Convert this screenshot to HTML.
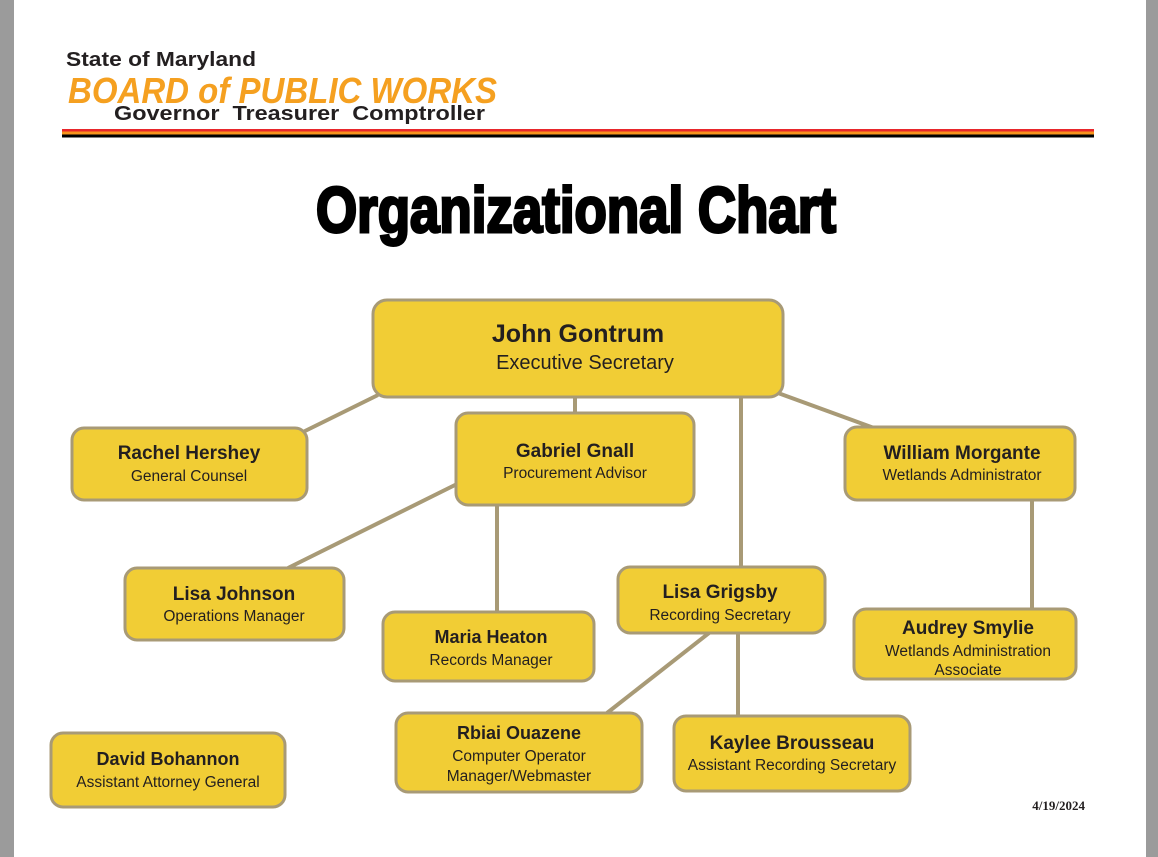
<!DOCTYPE html>
<html><head><meta charset="utf-8"><style>
html,body{margin:0;padding:0;background:#fff}
svg{display:block}
</style></head><body>
<svg width="1158" height="857" viewBox="0 0 1158 857" xmlns="http://www.w3.org/2000/svg" font-family="Liberation Sans, sans-serif">
<rect x="0" y="0" width="1158" height="857" fill="#fff"/>
<rect x="0" y="0" width="14" height="857" fill="#9b9b9b"/>
<rect x="1146" y="0" width="12" height="857" fill="#9b9b9b"/>
<text x="66" y="66" font-size="20" font-weight="bold" fill="#231f20" textLength="190" lengthAdjust="spacingAndGlyphs">State of Maryland</text>
<text x="68" y="103" font-size="36" font-style="italic" font-weight="bold" fill="#f5a020" textLength="429" lengthAdjust="spacingAndGlyphs">BOARD of PUBLIC WORKS</text>
<text x="114" y="120" font-size="20" font-weight="bold" fill="#231f20" textLength="371" lengthAdjust="spacingAndGlyphs" xml:space="preserve">Governor  Treasurer  Comptroller</text>
<rect x="62" y="129" width="1032" height="2.5" fill="#e8262b"/>
<rect x="62" y="131.5" width="1032" height="3" fill="#f7941d"/>
<rect x="62" y="134.5" width="1032" height="3" fill="#000"/>
<text x="316" y="232" font-size="64" font-weight="bold" fill="#000" stroke="#000" stroke-width="3" textLength="520" lengthAdjust="spacingAndGlyphs">Organizational Chart</text>
<g stroke="#a89a76" stroke-width="4" fill="none">
<line x1="378" y1="395" x2="303" y2="432"/>
<line x1="575" y1="396" x2="575" y2="414"/>
<line x1="741" y1="396" x2="741" y2="568"/>
<line x1="778" y1="393" x2="874" y2="428"/>
<line x1="457" y1="484" x2="288" y2="568"/>
<line x1="497" y1="504" x2="497" y2="612"/>
<line x1="1032" y1="499" x2="1032" y2="609"/>
<line x1="709" y1="633" x2="607" y2="713"/>
<line x1="738" y1="633" x2="738" y2="716"/>
</g>
<g fill="#f1cd35" stroke="#a89a76" stroke-width="3">
<rect x="373" y="300" width="410" height="97" rx="14"/>
<rect x="72" y="428" width="235" height="72" rx="12"/>
<rect x="456" y="413" width="238" height="92" rx="12"/>
<rect x="845" y="427" width="230" height="73" rx="12"/>
<rect x="125" y="568" width="219" height="72" rx="12"/>
<rect x="383" y="612" width="211" height="69" rx="12"/>
<rect x="618" y="567" width="207" height="66" rx="12"/>
<rect x="854" y="609" width="222" height="70" rx="12"/>
<rect x="396" y="713" width="246" height="79" rx="12"/>
<rect x="674" y="716" width="236" height="75" rx="12"/>
<rect x="51" y="733" width="234" height="74" rx="12"/>
</g>
<g fill="#231f20" text-anchor="middle">
<text x="578" y="342" font-size="25" font-weight="bold">John Gontrum</text>
<text x="585" y="369" font-size="20">Executive Secretary</text>
<text x="189" y="459" font-size="19" font-weight="bold">Rachel Hershey</text>
<text x="189" y="481" font-size="15.5">General Counsel</text>
<text x="575" y="457" font-size="19" font-weight="bold">Gabriel Gnall</text>
<text x="575" y="478" font-size="15.5">Procurement Advisor</text>
<text x="962" y="459" font-size="19" font-weight="bold">William Morgante</text>
<text x="962" y="480" font-size="15.5">Wetlands Administrator</text>
<text x="234" y="600" font-size="19" font-weight="bold">Lisa Johnson</text>
<text x="234" y="621" font-size="15.5">Operations Manager</text>
<text x="491" y="643" font-size="18" font-weight="bold">Maria Heaton</text>
<text x="491" y="665" font-size="15.5">Records Manager</text>
<text x="720" y="598" font-size="19" font-weight="bold">Lisa Grigsby</text>
<text x="720" y="620" font-size="15.5">Recording Secretary</text>
<text x="968" y="634" font-size="19" font-weight="bold">Audrey Smylie</text>
<text x="968" y="656" font-size="15.5">Wetlands Administration</text>
<text x="968" y="675" font-size="15.5">Associate</text>
<text x="519" y="739" font-size="18" font-weight="bold">Rbiai Ouazene</text>
<text x="519" y="761" font-size="15.5">Computer Operator</text>
<text x="519" y="781" font-size="15.5">Manager/Webmaster</text>
<text x="792" y="749" font-size="19" font-weight="bold">Kaylee Brousseau</text>
<text x="792" y="770" font-size="15.5">Assistant Recording Secretary</text>
<text x="168" y="765" font-size="18" font-weight="bold">David Bohannon</text>
<text x="168" y="787" font-size="15.5">Assistant Attorney General</text>
</g>
<text x="1085" y="810" font-size="13" font-weight="bold" font-family="Liberation Serif, serif" fill="#231f20" text-anchor="end">4/19/2024</text>
</svg>
</body></html>
